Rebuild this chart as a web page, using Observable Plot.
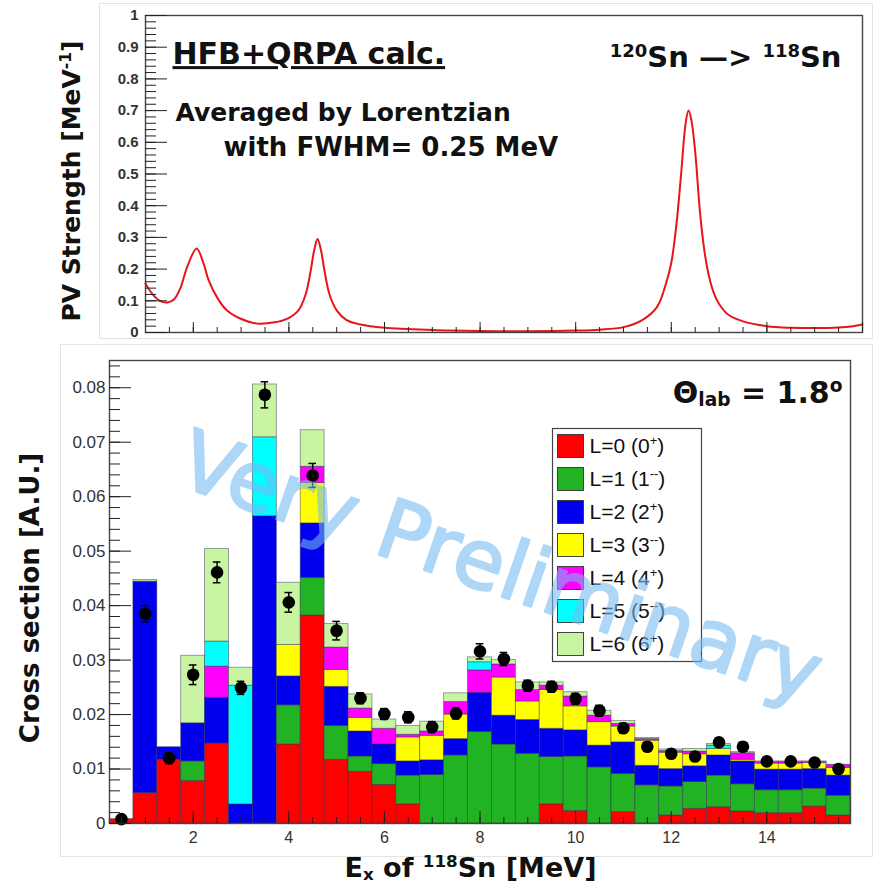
<!DOCTYPE html>
<html><head><meta charset="utf-8">
<script src="https://cdn.jsdelivr.net/npm/d3@7"></script>
<script src="https://cdn.jsdelivr.net/npm/@observablehq/plot@0.6"></script>
<style>
html,body{margin:0;padding:0;background:#fff;}
#wrap{position:relative;width:883px;height:889px;overflow:hidden;background:#fff;}
.pad{position:absolute;border:1px solid #e4e4e4;box-sizing:border-box;}
#top,#bot{position:absolute;left:0;}
#top{top:0;} #bot{top:345px;}
svg{overflow:visible;}
</style></head><body>
<div id="wrap">
  <div class="pad" style="left:99px;top:3px;width:774px;height:336px"></div>
  <div class="pad" style="left:60px;top:344px;width:813px;height:513px"></div>
  <div id="top"></div><div id="bot"></div>
</div>
<script>
// ---------------- DATA ----------------
// Top panel: PV strength curve (MeV, MeV^-1)
const pvEnergy   = [1.0, 1.1, 1.2, 1.3, 1.46, 1.6, 1.73, 1.88, 2.07, 2.21, 2.32, 2.5, 2.7, 2.97, 3.34, 3.7, 3.97, 4.2, 4.35, 4.45, 4.53, 4.6, 4.67, 4.75, 4.85, 5.0, 5.2, 5.5, 6.0, 7.0, 8.0, 9.0, 10.0, 10.5, 11.0, 11.4, 11.7, 11.9, 12.0, 12.1, 12.2, 12.3, 12.36, 12.42, 12.5, 12.6, 12.7, 12.8, 12.9, 13.0, 13.2, 13.5, 14.0, 14.5, 15.0, 15.5, 15.8, 16.0];
const pvStrength = [0.155, 0.13, 0.112, 0.1, 0.095, 0.105, 0.14, 0.21, 0.265, 0.22, 0.165, 0.11, 0.07, 0.045, 0.028, 0.032, 0.044, 0.07, 0.12, 0.19, 0.26, 0.295, 0.26, 0.19, 0.12, 0.07, 0.04, 0.025, 0.015, 0.008, 0.005, 0.004, 0.006, 0.009, 0.017, 0.04, 0.08, 0.16, 0.22, 0.33, 0.49, 0.66, 0.70, 0.67, 0.57, 0.38, 0.25, 0.17, 0.12, 0.09, 0.055, 0.035, 0.02, 0.015, 0.014, 0.016, 0.02, 0.025];

// Bottom panel: stacked cross sections per 0.5 MeV bin
const binCenters = [0.5, 1.0, 1.5, 2.0, 2.5, 3.0, 3.5, 4.0, 4.5, 5.0, 5.5, 6.0, 6.5, 7.0, 7.5, 8.0, 8.5, 9.0, 9.5, 10.0, 10.5, 11.0, 11.5, 12.0, 12.5, 13.0, 13.5, 14.0, 14.5, 15.0, 15.5];
const binWidth = 0.5;
const layerLabels = ["L=0 (0^{+})", "L=1 (1^{--})", "L=2 (2^{+})", "L=3 (3^{--})", "L=4 (4^{+})", "L=5 (5^{--})", "L=6 (6^{+})"];
const layerColors = ["#ff0000", "#22b322", "#0000ee", "#ffff00", "#ff00ff", "#00ffff", "#c9f5a2"];
const xsL0 = [0.0008, 0.0056, 0.0117, 0.0078, 0.0147, 0, 0, 0.0145, 0.0382, 0.0117, 0.0095, 0.0071, 0.0035, 0, 0, 0, 0, 0, 0.0035, 0.0023, 0, 0.0021, 0, 0.0015, 0.0027, 0.0030, 0.0022, 0.0019, 0.0019, 0.0031, 0.0015];
const xsL1 = [0, 0, 0, 0.0036, 0, 0, 0, 0.0072, 0.0069, 0.0062, 0.0028, 0.0038, 0.0053, 0.0089, 0.0125, 0.0168, 0.0145, 0.0128, 0.0087, 0.0100, 0.0103, 0.0070, 0.0070, 0.0053, 0.0049, 0.0058, 0.0050, 0.0042, 0.0042, 0.0033, 0.0036];
const xsL2 = [0, 0.0388, 0.0023, 0.0070, 0.0084, 0.0035, 0.0564, 0.0053, 0.0100, 0.0072, 0.0046, 0.0036, 0.0026, 0.0027, 0.0030, 0.0072, 0.0053, 0.0062, 0.0052, 0.0048, 0.0040, 0.0058, 0.0036, 0.0032, 0.0029, 0.0037, 0.0042, 0.0038, 0.0038, 0.0036, 0.0037];
const xsL3 = [0, 0, 0, 0, 0, 0, 0, 0.0058, 0.0074, 0.0031, 0.0025, 0, 0.0044, 0.0045, 0.0045, 0, 0.0070, 0.0034, 0.0071, 0.0044, 0.0043, 0.0029, 0.0046, 0.0030, 0.0022, 0.0012, 0.0003, 0.0011, 0.0011, 0.0011, 0.0014];
const xsL4 = [0, 0, 0, 0, 0.0057, 0, 0, 0, 0.0030, 0.0041, 0.0017, 0.0029, 0.0005, 0.0008, 0.0023, 0.0041, 0.0024, 0.0021, 0.0008, 0.0018, 0.0012, 0.0005, 0.0003, 0.0003, 0.0005, 0, 0.0012, 0.0003, 0.0003, 0.0002, 0.0005];
const xsL5 = [0, 0, 0, 0, 0.0046, 0.0218, 0.0145, 0, 0, 0, 0, 0, 0, 0, 0, 0.0015, 0, 0, 0, 0, 0, 0, 0, 0, 0, 0.0006, 0, 0, 0, 0, 0];
const xsL6 = [0, 0.0003, 0, 0.0124, 0.0170, 0.0033, 0.0097, 0.0114, 0.0067, 0.0043, 0.0026, 0.0017, 0.0016, 0.0018, 0.0016, 0.0009, 0.0008, 0.0014, 0.0006, 0.0008, 0.0009, 0.0005, 0.0002, 0.0003, 0.0005, 0.0003, 0.0002, 0.0001, 0.0001, 0.0001, 0.0001];
const dataXS  = [0.0008, 0.0385, 0.0120, 0.0273, 0.0461, 0.0249, 0.0787, 0.0406, 0.0639, 0.0354, 0.0230, 0.0201, 0.0195, 0.0177, 0.0202, 0.0316, 0.0302, 0.0253, 0.0251, 0.0229, 0.0207, 0.0175, 0.0141, 0.0128, 0.0123, 0.0149, 0.0141, 0.0114, 0.0114, 0.0112, 0.0100];
const dataErr = [0.0005, 0.0015, 0.0010, 0.0018, 0.0019, 0.0012, 0.0024, 0.0018, 0.0022, 0.0017, 0.0010, 0.0010, 0.0010, 0.0010, 0.0010, 0.0014, 0.0012, 0.0010, 0.0010, 0.0010, 0.0010, 0.0009, 0.0008, 0.0008, 0.0008, 0.0008, 0.0008, 0.0007, 0.0007, 0.0007, 0.0007];

// Tick labels
const topYTicks = [0, 0.1, 0.2, 0.3, 0.4, 0.5, 0.6, 0.7, 0.8, 0.9, 1];
const topYTickLabels = ["0", "0.1", "0.2", "0.3", "0.4", "0.5", "0.6", "0.7", "0.8", "0.9", "1"];
const topXMajor = [2, 4, 6, 8, 10, 12, 14, 16];
const botYTicks = [0, 0.01, 0.02, 0.03, 0.04, 0.05, 0.06, 0.07, 0.08];
const botYTickLabels = ["0", "0.01", "0.02", "0.03", "0.04", "0.05", "0.06", "0.07", "0.08"];
const botXTicks = [2, 4, 6, 8, 10, 12, 14];
const botXTickLabels = ["2", "4", "6", "8", "10", "12", "14"];

// ---------------- BUILD ----------------
const comic = "'DejaVu Sans',sans-serif";
const helv = "'Liberation Sans',Arial,Helvetica,sans-serif";
const tickCol = "#222";

const pvData = pvEnergy.map((e, i) => ({e, s: pvStrength[i]}));
const layers = [xsL0, xsL1, xsL2, xsL3, xsL4, xsL5, xsL6];
const stackRows = binCenters.flatMap((e, i) => layers.map((arr, k) => ({e, L: layerLabels[k], v: arr[i]}))).filter(d => d.v > 0);
const points = binCenters.map((e, i) => ({e, v: dataXS[i], err: dataErr[i]}));
const topYMap = new Map(topYTicks.map((t, i) => [t, topYTickLabels[i]]));
const botYMap = new Map(botYTicks.map((t, i) => [t, botYTickLabels[i]]));
const botXMap = new Map(botXTicks.map((t, i) => [t, botXTickLabels[i]]));

// ---- top panel ----
const T = {L: 145, R: 862, T: 15, B: 332};
const topPlot = Plot.plot({
  width: 883, height: 345,
  marginLeft: T.L, marginRight: 883 - T.R, marginTop: T.T, marginBottom: 345 - T.B,
  style: {background: "transparent", fontFamily: helv, color: "#111"},
  x: {domain: [1, 16]},
  y: {domain: [0, 1]},
  marks: [
    Plot.line(pvData, {x: "e", y: "s", stroke: "#e8141c", strokeWidth: 2, curve: "catmull-rom"}),
    Plot.frame({stroke: "#444", strokeWidth: 1.4}),
    Plot.axisY({ticks: d3.range(0, 1.001, 0.02), anchor: "left", tickSize: -11, fill: "none", stroke: tickCol, label: null}),
    Plot.axisY({ticks: topYTicks, anchor: "left", tickSize: -22, fill: "none", stroke: tickCol, label: null}),
    Plot.axisY({ticks: topYTicks, anchor: "left", tickSize: 0, tickPadding: 7, tickFormat: d => topYMap.get(d), label: null, fontSize: 15, fontWeight: "bold", fontFamily: helv, fill: "#333"}),
    Plot.axisX({ticks: d3.range(1.5, 16, 0.5), anchor: "bottom", tickSize: -5, fill: "none", stroke: tickCol, label: null}),
    Plot.axisX({ticks: topXMajor, anchor: "bottom", tickSize: -10, fill: "none", stroke: tickCol, label: null}),
    Plot.text(["PV Strength [MeV^{-1}]"], {text: d => d, frameAnchor: "left", dx: 71 - T.L, dy: 7, rotate: -90, textAnchor: "middle", lineAnchor: "middle", fontSize: 25, fontWeight: "bold", fontFamily: comic, fill: "#111"}),
    Plot.text(["HFB+QRPA calc."], {text: d => d, frameAnchor: "top-left", dx: 172 - T.L, dy: 54 - T.T, textAnchor: "start", lineAnchor: "middle", fontSize: 30, fontWeight: "bold", fontFamily: comic, fill: "#111"}),
    Plot.text(["Averaged by Lorentzian"], {text: d => d, frameAnchor: "top-left", dx: 175 - T.L, dy: 112 - T.T, textAnchor: "start", lineAnchor: "middle", fontSize: 25, fontWeight: "bold", fontFamily: comic, fill: "#111"}),
    Plot.text(["with FWHM= 0.25 MeV"], {text: d => d, frameAnchor: "top-left", dx: 223 - T.L, dy: 147 - T.T, textAnchor: "start", lineAnchor: "middle", fontSize: 26, fontWeight: "bold", fontFamily: comic, fill: "#111"}),
    Plot.text(["^{120}Sn \u2014> ^{118}Sn"], {text: d => d, frameAnchor: "top-right", dx: 841 - T.R, dy: 57 - T.T, textAnchor: "end", lineAnchor: "middle", fontSize: 29, fontWeight: "bold", fontFamily: comic, fill: "#111"})
  ]
});
document.getElementById("top").appendChild(topPlot);

// ---- bottom panel ----
const B = {L: 109, R: 850, T: 360, B: 823, off: 345};
const legendRow0 = 445.5, legendStep = 33;
const legendMarks = layerLabels.flatMap((lab, i) => {
  const c = legendRow0 + legendStep * i;
  return [
    Plot.frame({fill: layerColors[i], stroke: "#333", strokeWidth: 0.9,
      insetLeft: 557 - B.L, insetRight: B.R - 583, insetTop: (c - 11.5) - B.T, insetBottom: B.B - (c + 11.5)}),
    Plot.text([lab], {text: d => d, frameAnchor: "top-left", dx: 589 - B.L, dy: c - B.T, textAnchor: "start", lineAnchor: "middle", fontSize: 21, fontFamily: helv, fill: "#111"})
  ];
});

const botPlot = Plot.plot({
  width: 883, height: 544,
  marginLeft: B.L, marginRight: 883 - B.R, marginTop: B.T - B.off, marginBottom: 544 - (B.B - B.off),
  style: {background: "transparent", fontFamily: helv, color: "#111"},
  x: {domain: [0.25, 15.75]},
  y: {domain: [0, 0.085]},
  color: {type: "ordinal", domain: layerLabels, range: layerColors},
  marks: [
    Plot.rectY(stackRows, {x1: d => d.e - binWidth / 2, x2: d => d.e + binWidth / 2, y: "v", fill: "L", stroke: "#2a2a50", strokeWidth: 0.8, strokeOpacity: 0.55}),
    Plot.ruleX(points, {x: "e", y1: d => d.v - d.err, y2: d => d.v + d.err, stroke: "#000", strokeWidth: 1.5}),
    Plot.ruleY(points, {y: d => d.v + d.err, x1: d => d.e - 0.08, x2: d => d.e + 0.08, stroke: "#000", strokeWidth: 1.5}),
    Plot.ruleY(points, {y: d => d.v - d.err, x1: d => d.e - 0.08, x2: d => d.e + 0.08, stroke: "#000", strokeWidth: 1.5}),
    Plot.dot(points, {x: "e", y: "v", r: 6.3, fill: "#000", stroke: "none"}),
    Plot.frame({stroke: "#444", strokeWidth: 1.4}),
    Plot.axisY({ticks: d3.range(0, 0.0841, 0.002), anchor: "left", tickSize: -11, fill: "none", stroke: tickCol, label: null}),
    Plot.axisY({ticks: botYTicks, anchor: "left", tickSize: -22, fill: "none", stroke: tickCol, label: null}),
    Plot.axisY({ticks: botYTicks, anchor: "left", tickSize: 0, tickPadding: 4, tickFormat: d => botYMap.get(d), label: null, fontSize: 17, fontFamily: helv, fill: "#333"}),
    Plot.axisX({ticks: d3.range(0.5, 15.75, 0.5), anchor: "bottom", tickSize: -6, fill: "none", stroke: tickCol, label: null}),
    Plot.axisX({ticks: botXTicks, anchor: "bottom", tickSize: -12, fill: "none", stroke: tickCol, label: null}),
    Plot.axisX({ticks: botXTicks, anchor: "bottom", tickSize: 0, tickPadding: 8, tickFormat: d => botXMap.get(d), label: null, fontSize: 16, fontFamily: helv, fill: "#333"}),
    Plot.text(["Cross section [A.U.]"], {text: d => d, frameAnchor: "left", dx: 30 - B.L, dy: 6, rotate: -90, textAnchor: "middle", lineAnchor: "middle", fontSize: 26, fontWeight: "bold", fontFamily: comic, fill: "#111"}),
    Plot.text(["E_{x} of ^{118}Sn [MeV]"], {text: d => d, frameAnchor: "bottom", dx: 470 - (B.L + B.R) / 2, dy: 868 - B.B, textAnchor: "middle", lineAnchor: "middle", fontSize: 27, fontWeight: "bold", fontFamily: comic, fill: "#111"}),
    Plot.text(["\u0398_{lab} = 1.8^{o}"], {text: d => d, frameAnchor: "top-right", dx: 842 - B.R, dy: 393 - B.T, textAnchor: "end", lineAnchor: "middle", fontSize: 30, fontWeight: "bold", fontFamily: comic, fill: "#111"}),
    Plot.frame({fill: "#fff", stroke: "#444", strokeWidth: 1.2, insetLeft: 552 - B.L, insetRight: B.R - 701, insetTop: 428 - B.T, insetBottom: B.B - 661}),
    ...legendMarks,
    Plot.text(["Very Preliminary"], {text: d => d, frameAnchor: "top-left", dx: 500 - B.L, dy: 568 - B.T, rotate: 19, textAnchor: "middle", lineAnchor: "middle", fontSize: 82, fontFamily: comic, fill: "#75bbf2", stroke: "#75bbf2", strokeWidth: 2.5, strokeLinejoin: "round"})
  ]
});
document.getElementById("bot").appendChild(botPlot);

// ---- rich text: ^{..} superscript, _{..} subscript ----
function richify(root) {
  root.querySelectorAll("text").forEach(t => {
    const s = t.textContent;
    if (!/[\^_]\{/.test(s)) return;
    const fs = parseFloat(getComputedStyle(t).fontSize) || 16;
    const parts = s.split(/([\^_]\{[^}]*\})/).filter(p => p.length);
    while (t.firstChild) t.removeChild(t.firstChild);
    parts.forEach(p => {
      const ts = document.createElementNS("http://www.w3.org/2000/svg", "tspan");
      if (p.startsWith("^{")) {
        ts.textContent = p.slice(2, -1);
        ts.setAttribute("baseline-shift", (0.36 * fs).toFixed(1) + "px");
        ts.style.fontSize = (0.62 * fs).toFixed(1) + "px";
      } else if (p.startsWith("_{")) {
        ts.textContent = p.slice(2, -1);
        ts.setAttribute("baseline-shift", (-0.1 * fs).toFixed(1) + "px");
        ts.style.fontSize = (0.62 * fs).toFixed(1) + "px";
      } else ts.textContent = p;
      t.appendChild(ts);
    });
  });
}
richify(document.getElementById("wrap"));
document.querySelectorAll("text").forEach(t => {
  if (t.textContent === "HFB+QRPA calc.") t.style.textDecoration = "underline";
  if (t.textContent === "Very Preliminary") t.parentNode.style.opacity = "0.58";
});
</script>
</body></html>
